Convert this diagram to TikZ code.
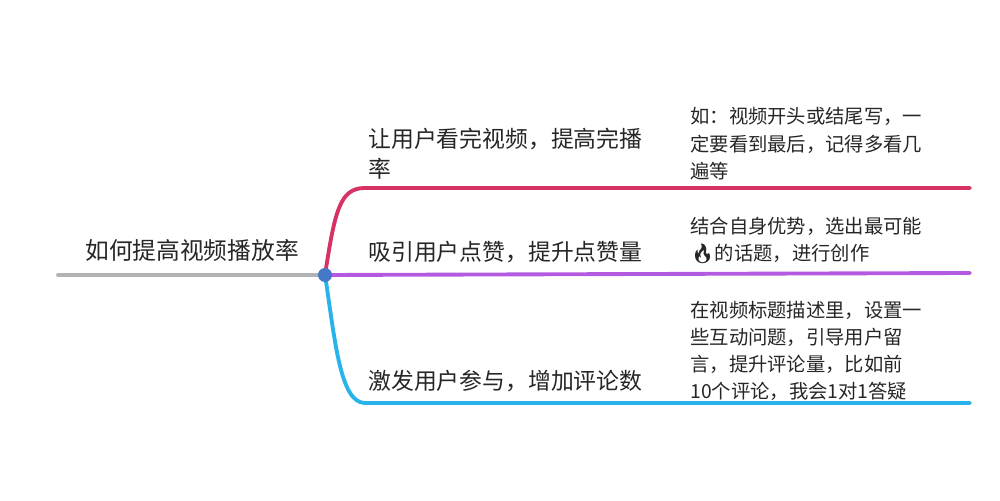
\documentclass[tikz,border=0pt]{standalone}
\usepackage{fontspec}
\setmainfont{Noto Sans CJK SC}
\newfontfamily\emoji{Noto Emoji}
\usetikzlibrary{positioning}
\definecolor{branchred}{RGB}{214,50,100}
\definecolor{branchpurple}{RGB}{180,90,225}
\definecolor{branchblue}{RGB}{40,180,235}
\definecolor{hubblue}{RGB}{70,120,200}
\tikzset{
    topic/.style={inner sep=0, anchor=south west, align=left, font=\fontsize{13pt}{17pt}\selectfont, text=black!85},
    note/.style={inner sep=0, anchor=south west, align=left, font=\fontsize{11pt}{15.4pt}\selectfont, text=black!85},
    branch/.style={line width=2.2pt, line cap=round}
}
\begin{document}
\begin{tikzpicture}[x=0.02cm,y=0.02cm]
    \useasboundingbox (0,0) rectangle (1000,500);
    \coordinate (start) at (58,225);
    \coordinate (hub) at (325,225);
    \coordinate (redend) at (970,312);
    \coordinate (purpleend) at (970,227);
    \coordinate (blueend) at (970,97);

    \node[topic, font=\fontsize{13.5pt}{17pt}\selectfont] (root) at (85,238) {如何提高视频播放率};
    \draw[branch, black!30] (start) -- (hub);

    \draw[branch, branchred] (hub) .. controls (335,290) and (340,312) .. (365,312) -- (redend);
    \draw[branch, branchpurple] (hub) -- (purpleend);
    \draw[branch, branchblue] (hub) .. controls (335,160) and (340,97) .. (365,97) -- (blueend);
    \fill[hubblue] (hub) circle (7);

    \node[topic] (t1) at (368,320) {让用户看完视频，提高完播\\率};
    \node[topic] (t2) at (368,237) {吸引用户点赞，提升点赞量};
    \node[topic] (t3) at (368,108) {激发用户参与，增加评论数};

    \node[note] (n1) at (690,320) {如：视频开头或结尾写，一\\定要看到最后，记得多看几\\遍等};
    \node[note] (n2) at (690,236) {结合自身优势，选出最可能\\{\emoji 🔥}的话题，进行创作};
    \node[note] (n3) at (690,99) {在视频标题描述里，设置一\\些互动问题，引导用户留\\言，提升评论量，比如前\\10个评论，我会1对1答疑};
\end{tikzpicture}
\end{document}
